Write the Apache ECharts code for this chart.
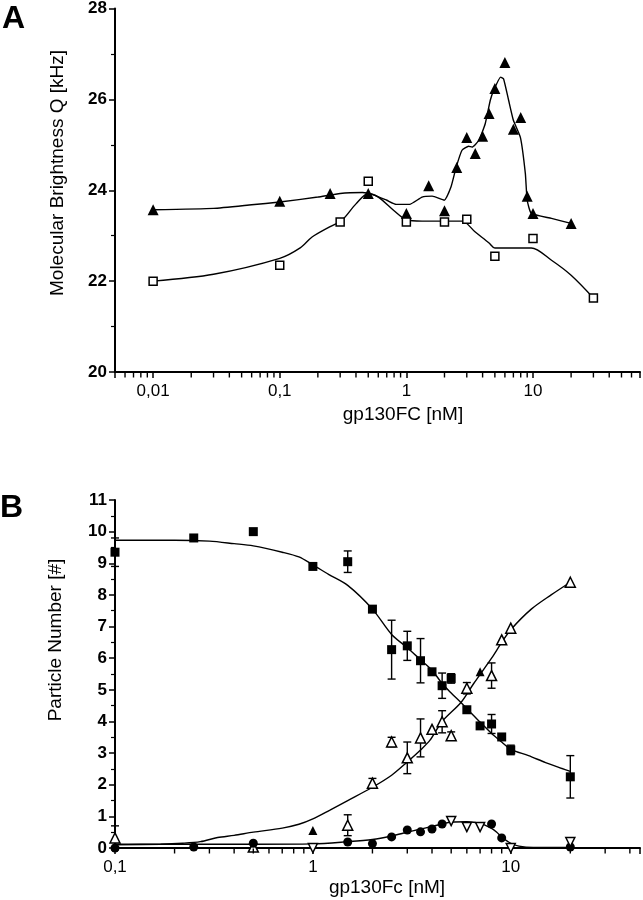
<!DOCTYPE html>
<html>
<head>
<meta charset="utf-8">
<title>gp130Fc brightness / particle number</title>
<script src="https://cdn.jsdelivr.net/npm/echarts@6/dist/echarts.min.js"></script>
<style>
  html, body { margin: 0; padding: 0; background: #fff; }
  #chart { width: 643px; height: 900px; }
</style>
</head>
<body>
<div id="chart"></div>
<script>
// ---- panel A: molecular brightness ----
var triX = [0.01, 0.1, 0.25, 0.5, 1, 1.5, 2, 2.5, 3, 3.5, 4, 4.5, 5, 6, 7, 8, 9, 10, 20];
var triY = [23.57, 23.76, 23.93, 23.93, 23.49, 24.1, 23.55, 24.5, 25.16, 24.81, 25.19, 25.69, 26.24, 26.81, 25.34, 25.6, 23.87, 23.49, 23.27];
var triFitX = [0.01, 0.03, 0.06, 0.1, 0.2, 0.3, 0.45, 0.55, 0.7, 0.83, 1.06, 1.33, 1.6, 1.99, 2.25, 2.47, 2.75, 3.1, 3.3, 3.74, 4.2, 4.6, 4.9, 5.55, 5.86, 6.42, 7, 7.96, 8.7, 9, 9.7, 14, 20];
var triFitY = [23.57, 23.6, 23.68, 23.74, 23.85, 23.93, 23.95, 23.9, 23.78, 23.69, 23.69, 23.85, 23.87, 23.78, 24.07, 24.5, 24.88, 24.97, 24.95, 25.1, 25.47, 25.98, 26.2, 26.49, 26.45, 25.98, 25.54, 25.16, 24.37, 23.78, 23.49, 23.38, 23.27];
var sqAX = [0.01, 0.1, 0.3, 0.5, 1, 2, 3, 5, 10, 30];
var sqAY = [22.0, 22.35, 23.3, 24.2, 23.3, 23.3, 23.36, 22.55, 22.94, 21.63];
var sqFitX = [0.01, 0.03, 0.1, 0.145, 0.18, 0.25, 0.31, 0.4, 0.5, 0.6, 0.8, 1, 1.33, 2.75, 3.5, 4.5, 5, 9.7, 14, 20, 30];
var sqFitY = [22.0, 22.15, 22.5, 22.73, 22.97, 23.2, 23.34, 23.7, 23.93, 23.85, 23.55, 23.35, 23.32, 23.32, 23.08, 22.84, 22.73, 22.73, 22.46, 22.13, 21.63];

// ---- panel B: particle number ----
var decX = [0.1, 0.25, 0.5, 1, 1.5, 2, 2.5, 3, 3.5, 4, 4.5, 5, 6, 7, 8, 9, 10, 20];
var decY = [9.35, 9.8, 10.0, 8.9, 9.05, 7.55, 6.27, 6.39, 5.92, 5.57, 5.13, 5.36, 4.37, 3.86, 3.92, 3.51, 3.1, 2.25];
var decErr = [0.45, 0, 0, 0, 0.34, 0, 0.93, 0.46, 0.7, 0, 0.4, 0.15, 0, 0, 0.3, 0, 0.15, 0.67];
var decFitX = [0.1, 0.2, 0.3, 0.4, 0.5, 0.7, 0.85, 1, 1.2, 1.5, 2, 2.5, 3, 3.5, 4, 4.5, 5, 5.6, 6, 7, 8, 9, 10, 12.3, 15, 18, 20];
var decFitY = [9.73, 9.73, 9.7, 9.62, 9.55, 9.35, 9.2, 8.95, 8.65, 8.3, 7.55, 6.75, 6.33, 5.95, 5.62, 5.2, 4.9, 4.6, 4.4, 3.98, 3.62, 3.35, 3.12, 2.92, 2.7, 2.52, 2.42];

var riseX = [0.1, 0.5, 1.5, 2, 2.5, 3, 3.5, 4, 4.5, 5, 6, 8, 9, 10, 20];
var riseY = [0.32, 0.03, 0.72, 2.05, 3.35, 2.85, 3.48, 3.75, 3.99, 3.55, 5.05, 5.45, 6.58, 6.95, 8.4];
var riseErr = [0.38, 0, 0.33, 0.15, 0.15, 0.5, 0.6, 0, 0.35, 0.12, 0.18, 0.4, 0, 0, 0];
var riseFilledX = [1, 7];
var riseFilledY = [0.55, 5.57];
var riseFitX = [0.1, 0.17, 0.22, 0.27, 0.33, 0.4, 0.5, 0.7, 0.85, 1, 1.22, 1.5, 2, 2.5, 3, 3.5, 3.9, 4.5, 5.6, 6.5, 8, 9, 10, 12.7, 16, 20];
var riseFitY = [0.1, 0.12, 0.15, 0.2, 0.33, 0.4, 0.5, 0.63, 0.75, 0.92, 1.2, 1.5, 1.92, 2.3, 2.72, 3.1, 3.4, 4.0, 4.6, 5.2, 6.0, 6.5, 6.9, 7.55, 8.0, 8.4];

var lowFilledX = [0.1, 0.25, 0.5, 1.5, 2, 2.5, 3, 3.5, 4, 4.5, 8, 9, 20];
var lowFilledY = [0.0, 0.03, 0.15, 0.19, 0.14, 0.35, 0.57, 0.51, 0.6, 0.76, 0.76, 0.32, 0.03];
var lowOpenX = [1, 5, 6, 7, 10, 20];
var lowOpenY = [0.0, 0.85, 0.66, 0.66, 0.0, 0.19];
var lowFitX = [0.1, 0.5, 1, 1.5, 2, 2.5, 3, 3.5, 4, 4.5, 5, 6, 7, 8, 8.5, 9, 10, 11, 13, 20];
var lowFitY = [0.12, 0.12, 0.13, 0.2, 0.27, 0.38, 0.5, 0.6, 0.68, 0.76, 0.82, 0.83, 0.78, 0.62, 0.5, 0.35, 0.15, 0.06, 0.02, 0.02];

function pairs(xs, ys) {
  return xs.map(function (x, i) { return [x, ys[i]]; });
}
function errRows(xs, ys, es) {
  var out = [];
  for (var i = 0; i < xs.length; i++) {
    if (es[i] > 0) out.push([xs[i], ys[i] - es[i], ys[i] + es[i]]);
  }
  return out;
}
// minor log ticks 2..9 x 10^k inside [lo, hi]
function minorLog(lo, hi, yAt) {
  var out = [];
  for (var k = -4; k <= 3; k++) {
    for (var m = 2; m <= 9; m++) {
      var v = m * Math.pow(10, k);
      if (v > lo && v < hi) out.push([v, yAt]);
    }
  }
  return out;
}
// only decades get a label, with decimal comma
function logLabel(v) {
  var e = Math.log10(v);
  if (Math.abs(e - Math.round(e)) > 1e-6) return '';
  return String(+v.toPrecision(6)).replace('.', ',');
}

var FONT = 'Liberation Sans, Arial, sans-serif';
var black = '#000';

var chart = echarts.init(document.getElementById('chart'), null, { renderer: 'canvas' });

function xAxisCfg(grid, min, max) {
  return {
    type: 'log', logBase: 10, gridIndex: grid, min: min, max: max,
    axisLine: { lineStyle: { color: black, width: 2 } },
    axisTick: { length: 6, lineStyle: { color: black, width: 1.5 } },
    minorTick: { show: false },
    splitLine: { show: false },
    axisLabel: { color: black, fontFamily: FONT, fontSize: 17, margin: 11, formatter: logLabel }
  };
}
function yAxisCfg(grid, min, max, interval) {
  return {
    type: 'value', gridIndex: grid, min: min, max: max, interval: interval,
    axisLine: { show: true, lineStyle: { color: black, width: 2 } },
    axisTick: { show: true, length: 6, lineStyle: { color: black, width: 1.5 } },
    minorTick: { show: true, splitNumber: 2, length: 4, lineStyle: { color: black, width: 1.2 } },
    splitLine: { show: false },
    axisLabel: { color: black, fontFamily: FONT, fontSize: 17, fontWeight: 'bold', margin: 8 }
  };
}

function errSeries(x, y, rows) {
  return {
    type: 'custom', xAxisIndex: x, yAxisIndex: y, silent: true, clip: false, z: 3,
    data: rows,
    renderItem: function (params, api) {
      var xv = api.value(0);
      var a = api.coord([xv, api.value(1)]);
      var b = api.coord([xv, api.value(2)]);
      var w = 4;
      var st = { stroke: black, lineWidth: 1.4 };
      return {
        type: 'group',
        children: [
          { type: 'line', shape: { x1: a[0], y1: a[1], x2: b[0], y2: b[1] }, style: st },
          { type: 'line', shape: { x1: a[0] - w, y1: a[1], x2: a[0] + w, y2: a[1] }, style: st },
          { type: 'line', shape: { x1: b[0] - w, y1: b[1], x2: b[0] + w, y2: b[1] }, style: st }
        ]
      };
    }
  };
}
function fitLine(x, y, data, smooth) {
  return {
    type: 'line', xAxisIndex: x, yAxisIndex: y, data: data, smooth: smooth,
    showSymbol: false, silent: true, z: 2,
    lineStyle: { color: black, width: 1.4 }
  };
}
function marks(x, y, data, symbol, size, filled, rotate) {
  return {
    type: 'scatter', xAxisIndex: x, yAxisIndex: y, data: data, silent: true, z: 4,
    symbol: symbol, symbolSize: size, symbolRotate: rotate || 0, clip: false,
    itemStyle: filled
      ? { color: black, opacity: 1 }
      : { color: '#fff', borderColor: black, borderWidth: 1.5, opacity: 1 }
  };
}
function minorTicks(x, y, data) {
  return {
    type: 'scatter', xAxisIndex: x, yAxisIndex: y, data: data, silent: true, clip: false,
    symbol: 'rect', symbolSize: [1.4, 5], symbolOffset: [0, 3], z: 5,
    itemStyle: { color: black, opacity: 1 }
  };
}

var option = {
  animation: false,
  backgroundColor: '#fff',
  textStyle: { fontFamily: FONT },
  grid: [
    { left: 115, top: 8, width: 525, height: 364 },
    { left: 115, top: 500, width: 526, height: 348 }
  ],
  xAxis: [xAxisCfg(0, 0.005, 70), xAxisCfg(1, 0.1, 45)],
  yAxis: [yAxisCfg(0, 20, 28, 2), yAxisCfg(1, 0, 11, 1)],
  graphic: [
    { type: 'text', left: 2, top: 3, style: { text: 'A', fill: black, font: 'bold 32px ' + FONT } },
    { type: 'text', left: 0, top: 492, style: { text: 'B', fill: black, font: 'bold 32px ' + FONT } },
    { type: 'text', x: 58, y: 173, rotation: Math.PI / 2,
      style: { text: 'Molecular Brightness Q [kHz]', fill: black, font: '19px ' + FONT, align: 'center', verticalAlign: 'middle' } },
    { type: 'text', x: 56, y: 640, rotation: Math.PI / 2,
      style: { text: 'Particle Number [#]', fill: black, font: '19px ' + FONT, align: 'center', verticalAlign: 'middle' } },
    { type: 'text', x: 403, y: 415,
      style: { text: 'gp130FC [nM]', fill: black, font: '19px ' + FONT, align: 'center', verticalAlign: 'middle' } },
    { type: 'text', x: 387, y: 888,
      style: { text: 'gp130Fc [nM]', fill: black, font: '19px ' + FONT, align: 'center', verticalAlign: 'middle' } }
  ],
  series: [
    minorTicks(0, 0, minorLog(0.005, 70, 20)),
    minorTicks(1, 1, minorLog(0.1, 45, 0)),
    // A
    fitLine(0, 0, pairs(triFitX, triFitY), 0.15),
    fitLine(0, 0, pairs(sqFitX, sqFitY), 0.3),
    marks(0, 0, pairs(triX, triY), 'triangle', 11, true),
    marks(0, 0, pairs(sqAX, sqAY), 'rect', 8, false),
    // B
    fitLine(1, 1, pairs(decFitX, decFitY), 0.3),
    fitLine(1, 1, pairs(riseFitX, riseFitY), 0.3),
    fitLine(1, 1, pairs(lowFitX, lowFitY), 0.3),
    errSeries(1, 1, errRows(decX, decY, decErr)),
    errSeries(1, 1, errRows(riseX, riseY, riseErr)),
    marks(1, 1, pairs(decX, decY), 'rect', 9, true),
    marks(1, 1, pairs(riseX, riseY), 'triangle', 10, false),
    marks(1, 1, pairs(riseFilledX, riseFilledY), 'triangle', 9, true),
    marks(1, 1, pairs(lowFilledX, lowFilledY), 'circle', 9, true),
    marks(1, 1, pairs(lowOpenX, lowOpenY), 'triangle', 9, false, 180)
  ]
};
chart.setOption(option);
window.addEventListener('resize', function () { chart.resize(); });
</script>
</body>
</html>
